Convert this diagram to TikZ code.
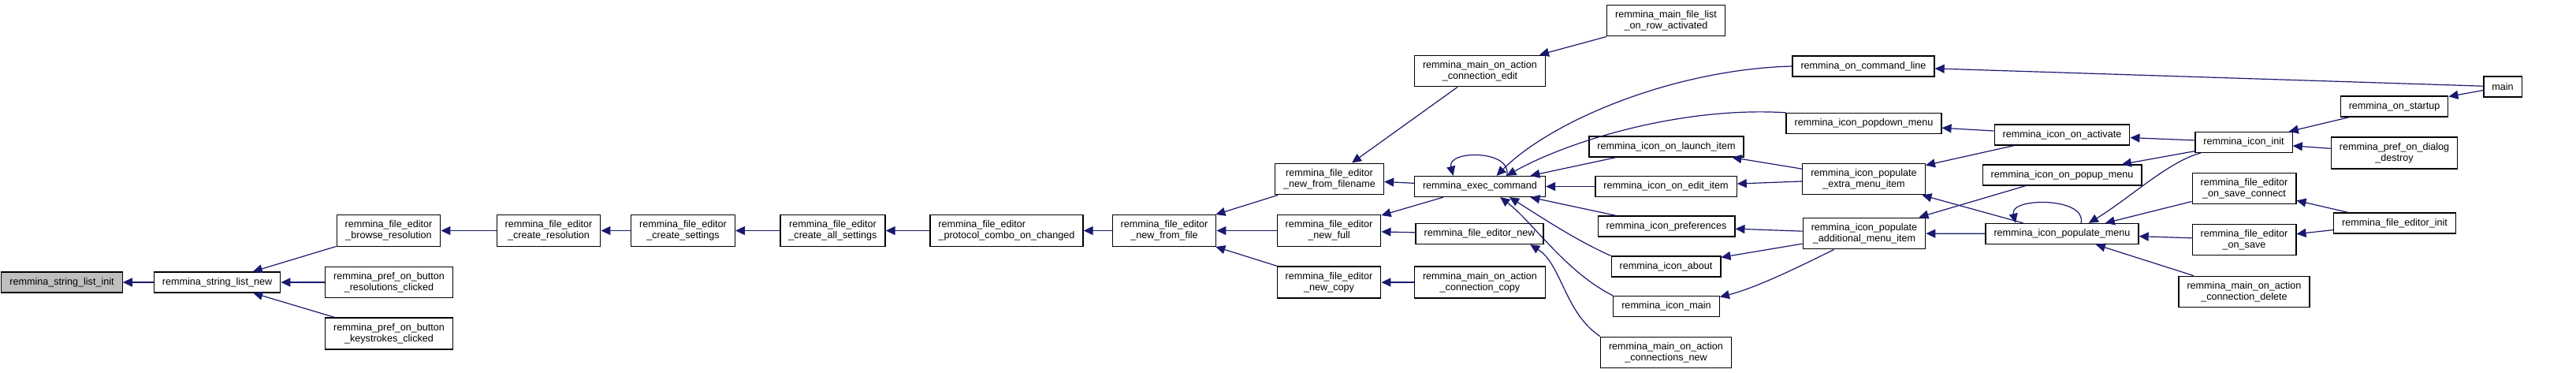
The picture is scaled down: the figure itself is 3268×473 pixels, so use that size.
\documentclass[tikz,border=0pt]{standalone}
\usepackage{fontspec}
\setmainfont{Liberation Sans}
\usepackage{xcolor}
\usepackage{tikz}
\usetikzlibrary{arrows.meta}
\definecolor{edgeblue}{HTML}{191970}
\definecolor{focusgray}{HTML}{BFBFBF}
\tikzset{
  fn/.style={draw=black, line width=1.3pt, inner xsep=10.5pt, inner ysep=7pt,
    minimum height=26pt, align=center, font=\fontsize{12.6}{14}\selectfont},
  focus/.style={fn, fill=focusgray},
  calls/.style={draw=edgeblue, line width=1.2pt, -{Triangle[length=12pt,width=11pt]}},
}

\begin{document}
\begin{tikzpicture}[x=1pt, y=-1pt]
\useasboundingbox (0,0) rectangle (3268,473);

% callee chain
\node[focus] (sinit) at (78.5,358) {remmina\_string\_list\_init};
\node[fn] (snew) at (275.5,358) {remmina\_string\_list\_new};
\node[fn] (browse) at (493,292.5) {remmina\_file\_editor\\\_browse\_resolution};
\node[fn] (resclk) at (493.5,358) {remmina\_pref\_on\_button\\\_resolutions\_clicked};
\node[fn] (keyclk) at (493.5,423) {remmina\_pref\_on\_button\\\_keystrokes\_clicked};
\node[fn] (createres) at (696,292.5) {remmina\_file\_editor\\\_create\_resolution};
\node[fn] (createset) at (866.5,292.5) {remmina\_file\_editor\\\_create\_settings};
\node[fn] (createall) at (1056.5,292.5) {remmina\_file\_editor\\\_create\_all\_settings};
\node[fn, align=left] (combo) at (1277,292.5) {remmina\_file\_editor\\\_protocol\_combo\_on\_changed};
\node[fn] (fromfile) at (1477,292.5) {remmina\_file\_editor\\\_new\_from\_file};

% file editor entry points
\node[fn] (fromname) at (1686.5,227) {remmina\_file\_editor\\\_new\_from\_filename};
\node[fn] (newfull) at (1686,292.5) {remmina\_file\_editor\\\_new\_full};
\node[fn] (newcopy) at (1686,358) {remmina\_file\_editor\\\_new\_copy};
\node[fn] (connedit) at (1877.5,90) {remmina\_main\_on\_action\\\_connection\_edit};
\node[fn] (exec) at (1877.5,236.5) {remmina\_exec\_command};
\node[fn] (fenew) at (1877,296.5) {remmina\_file\_editor\_new};
\node[fn] (conncopy) at (1877.5,358) {remmina\_main\_on\_action\\\_connection\_copy};

% icon menu column
\node[fn] (rowact) at (2113.5,26) {remmina\_main\_file\_list\\\_on\_row\_activated};
\node[fn] (launch) at (2114,186) {remmina\_icon\_on\_launch\_item};
\node[fn] (edititem) at (2113.5,236.5) {remmina\_icon\_on\_edit\_item};
\node[fn] (prefs) at (2114,287) {remmina\_icon\_preferences};
\node[fn] (about) at (2113.5,338) {remmina\_icon\_about};
\node[fn] (iconmain) at (2114,388.5) {remmina\_icon\_main};
\node[fn] (connnew) at (2113.5,447) {remmina\_main\_on\_action\\\_connections\_new};
\node[fn] (cmdline) at (2364,84) {remmina\_on\_command\_line};
\node[fn] (popdown) at (2364.5,156.5) {remmina\_icon\_popdown\_menu};
\node[fn] (extra) at (2364.5,227) {remmina\_icon\_populate\\\_extra\_menu\_item};
\node[fn] (additional) at (2365,296) {remmina\_icon\_populate\\\_additional\_menu\_item};
\node[fn] (activate) at (2616,171) {remmina\_icon\_on\_activate};
\node[fn] (popup) at (2616,222) {remmina\_icon\_on\_popup\_menu};
\node[fn] (popmenu) at (2616,296.5) {remmina\_icon\_populate\_menu};

% top level callers
\node[fn] (iconinit) at (2846.5,180.5) {remmina\_icon\_init};
\node[fn] (savecon) at (2847,239) {remmina\_file\_editor\\\_on\_save\_connect};
\node[fn] (onsave) at (2847,304) {remmina\_file\_editor\\\_on\_save};
\node[fn] (conndel) at (2847,370) {remmina\_main\_on\_action\\\_connection\_delete};
\node[fn] (startup) at (3037.5,135) {remmina\_on\_startup};
\node[fn] (destroy) at (3037.5,194) {remmina\_pref\_on\_dialog\\\_destroy};
\node[fn] (feinit) at (3038,283) {remmina\_file\_editor\_init};
\node[fn] (main) at (3175,110) {main};

% edges, caller -> callee
\draw[calls] (snew) -- (sinit);
\draw[calls] (browse) -- (snew);
\draw[calls] (resclk) -- (snew);
\draw[calls] (keyclk) -- (snew);
\draw[calls] (createres) -- (browse);
\draw[calls] (createset) -- (createres);
\draw[calls] (createall) -- (createset);
\draw[calls] (combo) -- (createall);
\draw[calls] (fromfile) -- (combo);
\draw[calls] (fromname) -- (fromfile);
\draw[calls] (newfull) -- (fromfile);
\draw[calls] (newcopy) -- (fromfile);
\draw[calls] (connedit) -- (fromname);
\draw[calls] (exec) -- (fromname);
\draw[calls] (exec) -- (newfull);
\draw[calls] (fenew) -- (newfull);
\draw[calls] (conncopy) -- (newcopy);
\draw[calls] (rowact) -- (connedit);
\draw[calls] ([xshift=34pt]exec.north) .. controls +(8,-33) and +(-8,-33) .. ([xshift=-34pt]exec.north);
\draw[calls] (cmdline.west) .. controls +(-150,4) and +(70,-70) .. (exec.33);
\draw[calls] (popdown.north west) .. controls +(-130,-8) and +(80,-45) .. (exec.22);
\draw[calls] (launch) -- (exec);
\draw[calls] (edititem) -- (exec);
\draw[calls] (prefs) -- (exec);
\draw[calls] (about.north west) .. controls +(-45,-20) and +(40,25) .. (exec.-20);
\draw[calls] (iconmain.north west) .. controls +(-60,-30) and +(40,30) .. (exec.-28);
\draw[calls] (connnew.north west) .. controls +(-45,-30) and +(40,25) .. (fenew.-12);
\draw[calls] (main) -- (cmdline);
\draw[calls] (activate) -- (popdown);
\draw[calls] (extra) -- (launch);
\draw[calls] (extra) -- (edititem);
\draw[calls] (additional) -- (prefs);
\draw[calls] (additional) -- (about);
\draw[calls] (additional.-152) .. controls +(-60,30) and +(40,-10) .. (iconmain.10);
\draw[calls] (activate) -- (extra);
\draw[calls] (popmenu) -- (extra);
\draw[calls] (popup) -- (additional);
\draw[calls] (popmenu) -- (additional);
\draw[calls] (iconinit) -- (activate);
\draw[calls] (iconinit) -- (popup);
\draw[calls] ([xshift=24pt]popmenu.north) .. controls +(8,-33) and +(-8,-33) .. ([xshift=-59pt]popmenu.north);
\draw[calls] (iconinit.-166) .. controls +(-40,10) and +(50,-30) .. (popmenu.22);
\draw[calls] (savecon) -- (popmenu);
\draw[calls] (onsave) -- (popmenu);
\draw[calls] (conndel) -- (popmenu);
\draw[calls] (startup) -- (iconinit);
\draw[calls] (destroy) -- (iconinit);
\draw[calls] (main) -- (startup);
\draw[calls] (feinit) -- (savecon);
\draw[calls] (feinit) -- (onsave);
\end{tikzpicture}
\end{document}
